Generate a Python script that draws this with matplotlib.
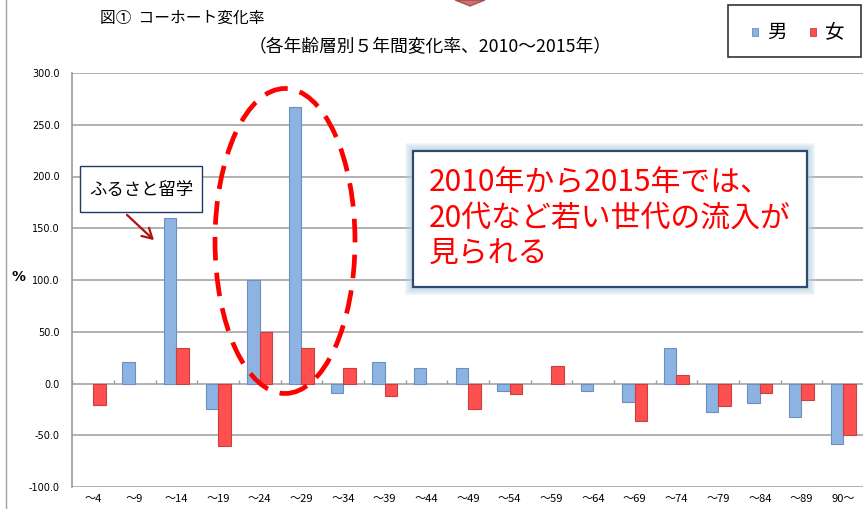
import numpy as np
import matplotlib
matplotlib.use('Agg')
import matplotlib.pyplot as plt
from matplotlib.patches import Ellipse, Rectangle, FancyArrowPatch, Polygon
from matplotlib.lines import Line2D

plt.rcParams['font.family'] = ['Noto Sans CJK JP', 'DejaVu Sans']

# data
ages = ['～4', '～9', '～14', '～19', '～24', '～29', '～34', '～39', '～44', '～49',
        '～54', '～59', '～64', '～69', '～74', '～79', '～84', '～89', '90～']
male = [0, 20.5, 160, -25, 100, 267, -9.5, 20.5, 15, 15,
        -7, 0, -7, -18, 34, -28, -19, -32, -58]
female = [-20.5, 0, 34, -60, 50, 34, 14.5, -12.5, 0, -25,
          -10.5, 17, 0, -36.5, 8, -22, -9.5, -16, -49.5]
yticks = [-100, -50, 0, 50, 100, 150, 200, 250, 300]

W, H = 863, 509
fig = plt.figure(figsize=(W / 100, H / 100), dpi=100)
fig.patch.set_facecolor('white')

def fx(px):
    return px / W

def fy(py):
    return 1 - py / H

ax = fig.add_axes([fx(72.2), fy(487), fx(864) - fx(72.2), fy(73) - fy(487)])
x = np.arange(len(ages))
bw = 0.3
m_edge = ['#6B8FC0' if v != 0 else 'none' for v in male]
f_edge = ['#C84040' if v != 0 else 'none' for v in female]
ax.bar(x - bw / 2, male, bw, color='#8DB3E2', edgecolor=m_edge, linewidth=0.8, zorder=3)
ax.bar(x + bw / 2, female, bw, color='#FF5050', edgecolor=f_edge, linewidth=0.8, zorder=3)

ax.set_xlim(-0.5, len(ages) - 0.5)
ax.set_ylim(-100, 300)
ax.set_yticks(yticks)
ax.set_yticklabels(['%.1f' % v for v in yticks], fontsize=7, family='DejaVu Sans')
ax.set_xticks(x)
ax.set_xticklabels(ages, fontsize=8)
ax.tick_params(axis='x', length=0, pad=5)
ax.tick_params(axis='y', length=0, pad=9)
ax.grid(axis='y', color='#ABABAB', linewidth=1.3, zorder=0)
for s in ['top', 'right', 'bottom']:
    ax.spines[s].set_visible(False)
ax.spines['left'].set_color('#9A9A9A')
ax.spines['left'].set_linewidth(1.2)
# category tick marks on zero line
ax.vlines(np.arange(len(ages) + 1) - 0.5, 0, 3, color='#9A9A9A', linewidth=1, zorder=2)
ax.set_ylabel('%', rotation=0, fontsize=10, fontweight='bold', family='DejaVu Sans')
ax.yaxis.set_label_coords(-0.068, 0.49)

# dashed ellipse
ell = Ellipse((fx(285), fy(241)), fx(140), fy(0) - fy(305), transform=fig.transFigure,
              fill=False, edgecolor='#FF0000', linewidth=3.4, linestyle=(0, (5, 2.6)), zorder=5)
fig.add_artist(ell)

# annotation box
fig.add_artist(Rectangle((fx(80), fy(212)), fx(122), fy(166) - fy(212), transform=fig.transFigure,
                         facecolor='white', edgecolor='#1F3864', linewidth=1.0, zorder=6))
fig.text(fx(141), fy(190), 'ふるさと留学', fontsize=12.5, ha='center', va='center', zorder=7)
fig.add_artist(FancyArrowPatch((fx(125), fy(213)), (fx(156), fy(242)), transform=fig.transFigure,
                               arrowstyle='->,head_length=7,head_width=4', color='#B01010',
                               linewidth=1.6, zorder=7))

# comment box with glow
bx0, by0, bx1, by1 = 413, 151, 807, 287
for i in range(8, 0, -1):
    fig.add_artist(Rectangle((fx(bx0 - i), fy(by1 + i)), fx(bx1 - bx0 + 2 * i), fy(by0 - i) - fy(by1 + i),
                             transform=fig.transFigure, facecolor='#B8D3E3', edgecolor='none',
                             alpha=0.16, zorder=8))
fig.add_artist(Rectangle((fx(bx0), fy(by1)), fx(bx1 - bx0), fy(by0) - fy(by1), transform=fig.transFigure,
                         facecolor='white', edgecolor='#2E4A6E', linewidth=1.6, zorder=9))
fig.text(fx(429), fy(218), '2010年から2015年では、\n20代など若い世代の流入が\n見られる',
         fontsize=21.5, color='#FF0000', ha='left', va='center', linespacing=1.17, zorder=10)

# titles
fig.text(fx(100), fy(18), '図①  コーホート変化率', fontsize=11.3, ha='left', va='center')
fig.text(fx(430), fy(47), '（各年齢層別５年間変化率、2010～2015年）', fontsize=12.8, ha='center', va='center')

# legend box
fig.add_artist(Rectangle((fx(728), fy(57)), fx(133), fy(5) - fy(57), transform=fig.transFigure,
                         facecolor='white', edgecolor='#333333', linewidth=1.2, zorder=6))
fig.add_artist(Rectangle((fx(752), fy(36)), fx(6), fy(28) - fy(36), transform=fig.transFigure,
                         facecolor='#8DB3E2', edgecolor='#6B8FC0', linewidth=0.6, zorder=7))
fig.text(fx(767), fy(32), '男', fontsize=14, ha='left', va='center', zorder=7)
fig.add_artist(Rectangle((fx(810), fy(36)), fx(6), fy(28) - fy(36), transform=fig.transFigure,
                         facecolor='#FF5050', edgecolor='#C84040', linewidth=0.6, zorder=7))
fig.text(fx(825), fy(32), '女', fontsize=14, ha='left', va='center', zorder=7)

# outer frame line and clipped shape at top
fig.add_artist(Line2D([fx(5.5), fx(5.5)], [0, 1], transform=fig.transFigure, color='#A0A0A0', linewidth=1))
fig.add_artist(Polygon([(fx(455), 1), (fx(485), 1), (fx(470), fy(6))], closed=True,
                       transform=fig.transFigure, facecolor='#C0504D', edgecolor='#9B3A38', alpha=0.8))

fig.savefig('out.png', dpi=100)
